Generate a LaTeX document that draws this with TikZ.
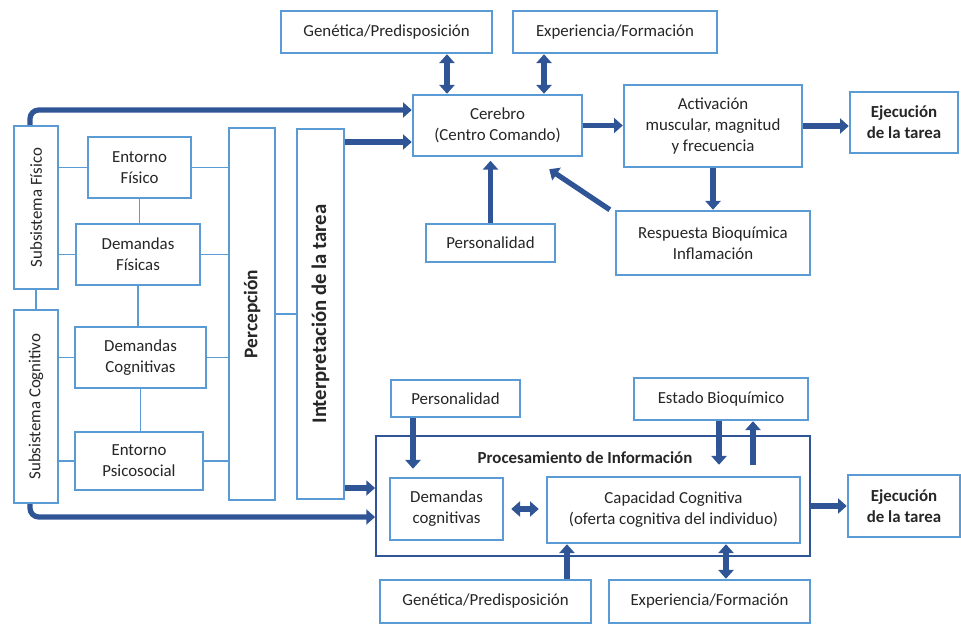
\documentclass[tikz,border=0pt]{standalone}
\usepackage{fontspec}
\setmainfont{Carlito}
\usetikzlibrary{arrows.meta}
\usetikzlibrary{shadows}
\definecolor{boxblue}{RGB}{91,155,213}
\definecolor{arrblue}{RGB}{47,85,151}
\definecolor{txtgray}{RGB}{38,38,38}

\begin{document}
\begin{tikzpicture}[x=0.02cm, y=-0.02cm,
        every node/.style={font=\fontsize{9.6}{12}\selectfont, text=txtgray},
        box/.style={draw=boxblue, line width=1.4pt, fill=white, align=center, inner sep=1pt,
            drop shadow={opacity=0.12, shadow xshift=0.6pt, shadow yshift=-0.6pt}},
        bbox/.style={box, font=\fontsize{9.6}{12}\selectfont\bfseries},
        link/.style={draw=boxblue, line width=0.6pt},
        fat/.style={draw=arrblue, line width=3pt, -{Triangle[width=8.5pt,length=5pt]}},
        fatboth/.style={fat, {Triangle[width=8.5pt,length=5pt]}-{Triangle[width=8.5pt,length=5pt]}}]
        \useasboundingbox (0,0) rectangle (961,625);
        % top half
        \node[box, minimum width=4.22cm, minimum height=0.84cm] (genA) at (386.5,32) {Genética/Predisposición};
        \node[box, minimum width=4.08cm, minimum height=0.84cm] (expA) at (615,32) {Experiencia/Formación};
        \node[box, minimum width=3.38cm, minimum height=1.22cm] (cer) at (497.5,125.5) {Cerebro\\(Centro Comando)};
        \node[box, minimum width=3.56cm, minimum height=1.64cm] (act) at (713,126) {Activación\\muscular, magnitud\\y frecuencia};
        \node[bbox, minimum width=2.16cm, minimum height=1.22cm] (ejA) at (904,122.5) {Ejecución\\de la tarea};
        \node[box, minimum width=2.58cm, minimum height=0.76cm] (perA) at (490.5,243) {Personalidad};
        \node[box, minimum width=3.88cm, minimum height=1.28cm] (resp) at (713,243) {Respuesta Bioquímica\\Inflamación};
        % left columns
        \node[box, minimum width=0.88cm, minimum height=3.26cm] (subF) at (36,207.5) {\rotatebox{90}{Subsistema Físico}};
        \node[box, minimum width=0.88cm, minimum height=3.86cm] (subC) at (36,406.5) {\rotatebox{90}{Subsistema Cognitivo}};
        \node[box, minimum width=2.06cm, minimum height=1.22cm] (entF) at (139.5,167.5) {Entorno\\Físico};
        \node[box, minimum width=2.48cm, minimum height=1.22cm] (demF) at (138,254.5) {Demandas\\Físicas};
        \node[box, minimum width=2.62cm, minimum height=1.22cm] (demC) at (140.5,357.5) {Demandas\\Cognitivas};
        \node[box, minimum width=2.56cm, minimum height=1.16cm] (entP) at (139,461) {Entorno\\Psicosocial};
        \node[box, minimum width=0.92cm, minimum height=7.44cm, font=\fontsize{11}{13}\selectfont\bfseries] (perc) at (252,314) {\rotatebox{90}{Percepción}};
        \node[box, minimum width=0.94cm, minimum height=7.40cm, font=\fontsize{11.8}{14}\selectfont\bfseries] (intp) at (320.5,314) {\rotatebox{90}{Interpretación de la tarea}};
        % bottom half
        \node[draw=arrblue, line width=1.1pt, minimum width=8.68cm, minimum height=2.40cm] (proc) at (593,496) {};
        \node[font=\fontsize{9.6}{12}\selectfont\bfseries] (procT) at (585,458) {Procesamiento de Información};
        \node[box, minimum width=2.58cm, minimum height=0.74cm] (perB) at (455.5,398.5) {Personalidad};
        \node[box, minimum width=3.48cm, minimum height=0.84cm] (est) at (721,399) {Estado Bioquímico};
        \node[box, minimum width=2.26cm, minimum height=1.24cm] (demK) at (446.5,509) {Demandas\\cognitivas};
        \node[box, minimum width=5.06cm, minimum height=1.32cm] (cap) at (673.5,510) {Capacidad Cognitiva\\(oferta cognitiva del individuo)};
        \node[bbox, minimum width=2.24cm, minimum height=1.24cm] (ejB) at (904,506) {Ejecución\\de la tarea};
        \node[box, minimum width=4.22cm, minimum height=0.86cm] (genB) at (485.5,601.5) {Genética/Predisposición};
        \node[box, minimum width=4.02cm, minimum height=0.86cm] (expB) at (709.5,601.5) {Experiencia/Formación};
        % thin links on the left
        \draw[link] (entF.west) -- (entF.west -| subF.east);
        \draw[link] (demF.west) -- (demF.west -| subF.east);
        \draw[link] (demC.west) -- (demC.west -| subC.east);
        \draw[link] (entP.west) -- (entP.west -| subC.east);
        \draw[link] (entF.east) -- (entF.east -| perc.west);
        \draw[link] (demF.east) -- (demF.east -| perc.west);
        \draw[link] (demC.east) -- (demC.east -| perc.west);
        \draw[link] (entP.east) -- (entP.east -| perc.west);
        \draw[link] (entF.south) -- (entF.south |- demF.north);
        \draw[link] (demF.south) -- (demF.south |- demC.north);
        \draw[link] (demC.south) -- (demC.south |- entP.north);
        \draw[link] (subF.south) -- (subC.north);
        \draw[link] (perc.east) -- (perc.east -| intp.west);
        % fat arrows, top
        \draw[fat, rounded corners=5pt] ([xshift=-0.12cm]subF.north) |- ([yshift=0.31cm]cer.west);
        \draw[fat] ([yshift=-0.33cm]cer.west -| intp.east) -- ([yshift=-0.33cm]cer.west);
        \draw[fatboth] ([xshift=1.21cm]genA.south) -- ([xshift=1.21cm]genA.south |- cer.north);
        \draw[fatboth] ([xshift=-1.42cm]expA.south) -- ([xshift=-1.42cm]expA.south |- cer.north);
        \draw[fat] (cer.east) -- (cer.east -| act.west);
        \draw[fat] (act.east) -- (act.east -| ejA.west);
        \draw[fat] (act.south) -- (resp.north);
        \draw[fat, shorten >=2pt] (perA.north) -- (perA.north |- cer.south);
        \draw[fat] ([xshift=-0.1cm]resp.north west) -- ([xshift=-0.68cm,yshift=-0.24cm]cer.south east);
        % fat arrows, bottom
        \draw[fat] ([yshift=0.16cm]proc.west -| intp.east) -- ([yshift=0.16cm]proc.west);
        \draw[fat, rounded corners=5pt] ([xshift=-0.12cm]subC.south) |- ([yshift=-0.42cm]proc.west);
        \draw[fat, shorten >=0.16cm] ([xshift=-0.85cm]perB.south) -- ([xshift=-0.85cm]perB.south |- demK.north);
        \draw[fat, shorten >=0.22cm] ([xshift=-0.04cm]est.south) -- ([xshift=-0.04cm]est.south |- cap.north);
        \draw[fat, shorten <=0.22cm] ([xshift=0.64cm]est.south |- cap.north) -- ([xshift=0.64cm]est.south);
        \draw[fatboth, shorten <=0.14cm, shorten >=0.14cm] (demK.east) -- (demK.east -| cap.west);
        \draw[fat] (proc.east |- ejB.west) -- (ejB.west);
        \draw[fat] ([xshift=1.63cm]genB.north) -- ([xshift=1.63cm]genB.north |- cap.south);
        \draw[fatboth] ([xshift=0.33cm]expB.north) -- ([xshift=0.33cm]expB.north |- cap.south);
    \end{tikzpicture}
\end{document}
